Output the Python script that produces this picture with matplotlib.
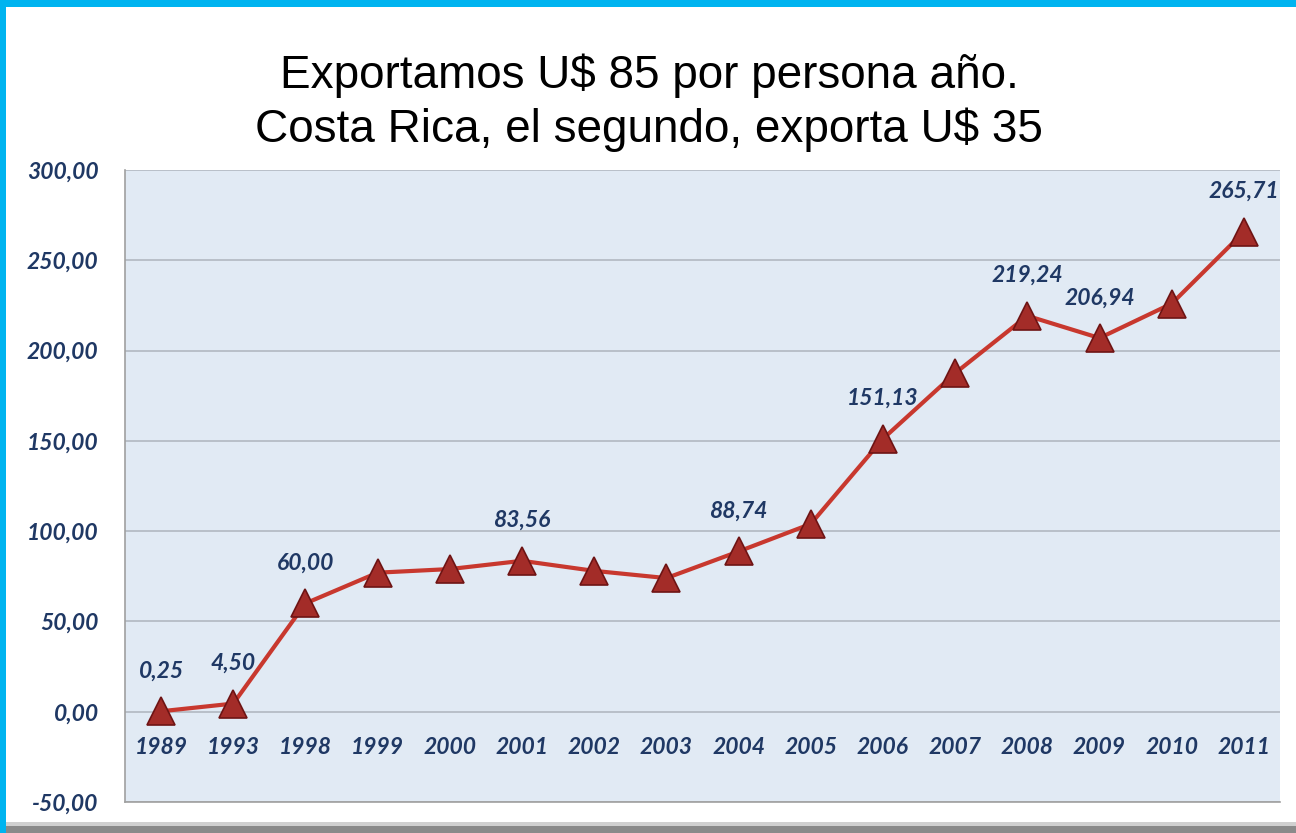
import numpy as np
import matplotlib.pyplot as plt
from matplotlib.patches import Rectangle

# data
years = ['1989', '1993', '1998', '1999', '2000', '2001', '2002', '2003',
         '2004', '2005', '2006', '2007', '2008', '2009', '2010', '2011']
values = [0.25, 4.50, 60.00, 77.0, 79.0, 83.56, 78.0, 74.0,
          88.74, 104.0, 151.13, 187.5, 219.24, 206.94, 226.0, 265.71]
labelled = ['1989', '1993', '1998', '2001', '2004', '2006', '2008', '2009', '2011']
yticks = [-50, 0, 50, 100, 150, 200, 250, 300]

title = 'Exportamos U$ 85 por persona año.\nCosta Rica, el segundo, exporta U$ 35'
navy = '#1f3864'
red = '#c8382e'
W, H = 1296, 833

fig = plt.figure(figsize=(12.96, 8.33), dpi=100)
fig.patch.set_facecolor('white')

# slide frame: cyan top and left edges, grey shadow at the bottom
fig.patches.append(Rectangle((0, 1 - 7/H), 1, 7/H, transform=fig.transFigure,
                             facecolor='#00b4f0', edgecolor='none', zorder=-1))
fig.patches.append(Rectangle((0, 0), 6/W, 1, transform=fig.transFigure,
                             facecolor='#00b4f0', edgecolor='none', zorder=-1))
fig.patches.append(Rectangle((6/W, 0), 1, 7/H, transform=fig.transFigure,
                             facecolor='#8a8a8a', edgecolor='none', zorder=-1))
fig.patches.append(Rectangle((6/W, 7/H), 1, 4/H, transform=fig.transFigure,
                             facecolor='#d0d0d0', edgecolor='none', zorder=-1))

fig.text(0.501, 0.877, title, ha='center', va='center', fontsize=33,
         family='Liberation Sans', linespacing=1.27)

ax = fig.add_axes([125/W, 31/H, 1155/W, 632/H])
ax.set_facecolor('#e1eaf4')
x = np.arange(len(years))

ax.plot(x, values, color=red, lw=3, zorder=3)
ax.plot(x, values, ls='none', marker='^', ms=20, mfc='#a32c28',
        mec='#6e1414', mew=1.2, zorder=4)

for i, (yr, v) in enumerate(zip(years, values)):
    if yr in labelled:
        ax.annotate(f'{v:.2f}'.replace('.', ','), (i, v), xytext=(0, 29),
                    textcoords='offset points', ha='center', va='center',
                    fontsize=16.5, fontweight='bold', style='italic',
                    color=navy, family='Lato')

ax.set_xlim(-0.5, len(years) - 0.5)
ax.set_ylim(-50, 300)
ax.set_yticks(yticks)
ax.set_yticklabels([f'{t:.2f}'.replace('.', ',') for t in yticks])
ax.yaxis.grid(True, color='#aeb4bc', lw=1.1)
ax.set_axisbelow(True)
ax.tick_params(axis='y', length=0, pad=19, labelcolor=navy)
for lab in ax.get_yticklabels():
    lab.set_fontsize(16.5)
    lab.set_fontweight('bold')
    lab.set_fontstyle('italic')
    lab.set_family('Lato')

# category labels sit just below the zero line
ax.set_xticks([])
for i, yr in enumerate(years):
    ax.text(i, -20, yr, ha='center', va='center', fontsize=16.5,
            fontweight='bold', style='italic', color=navy, family='Lato')

for s in ax.spines.values():
    s.set_color('#a0a0a0')
    s.set_linewidth(1.2)
ax.spines['right'].set_visible(False)
ax.spines['top'].set_visible(False)

fig.savefig('out.png', dpi=100, facecolor=fig.get_facecolor())
